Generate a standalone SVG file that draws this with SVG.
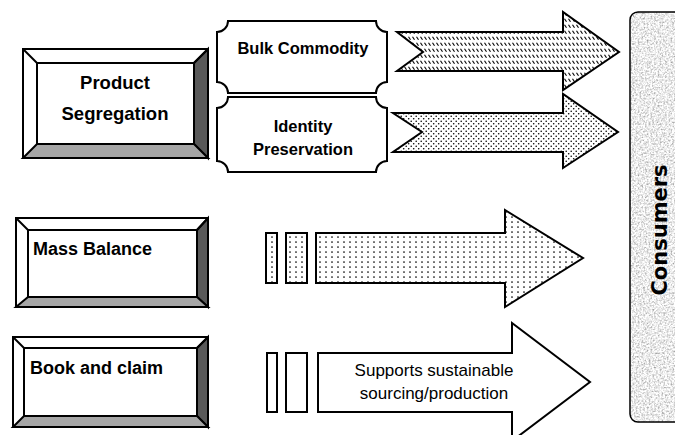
<svg xmlns="http://www.w3.org/2000/svg" width="675" height="435" viewBox="0 0 675 435">
<style>
.ln{stroke:#000;stroke-width:2;stroke-linejoin:miter}
.w{fill:#fff}
.dk{fill:#595959}
.md{fill:#a6a6a6}
.bt{font-family:"Liberation Sans",Arial,sans-serif;font-weight:bold;fill:#000}
.rt{font-family:"Liberation Sans",Arial,sans-serif;fill:#000}
</style>
<defs>
<pattern id="hatch" width="4" height="6" patternUnits="userSpaceOnUse">
<rect width="4" height="6" fill="#fff"/>
<line x1="0.5" y1="0.8" x2="2.5" y2="3.8" stroke="#000" stroke-width="1.1"/>
</pattern>
<pattern id="dots" width="5" height="5" patternUnits="userSpaceOnUse">
<rect width="5" height="5" fill="#fff"/>
<circle cx="1.2" cy="1.2" r="0.8" fill="#000"/>
<circle cx="3.7" cy="3.7" r="0.8" fill="#000"/>
</pattern>
<pattern id="dots2" width="6" height="5" patternUnits="userSpaceOnUse">
<rect width="6" height="5" fill="#fff"/>
<circle cx="2" cy="2" r="0.85" fill="#000"/>
</pattern>
<filter id="grain" x="0" y="0" width="100%" height="100%">
<feTurbulence type="fractalNoise" baseFrequency="0.55" numOctaves="3" seed="4" result="n"/>
<feColorMatrix in="n" type="matrix" values="1.3 0 0 0 0.18  1.3 0 0 0 0.18  1.3 0 0 0 0.18  0 0 0 0 1" result="g"/>
<feComposite in="g" in2="SourceGraphic" operator="in"/>
</filter>
</defs>
<rect width="675" height="435" fill="#fff"/>

<g id="product-segregation">
<rect class="ln w" x="23" y="49" width="185" height="109"/>
<polygon class="ln dk" points="208,49 208,158 194,144 194,63"/>
<polygon class="ln md" points="23,158 208,158 194,144 37,144"/>
<line class="ln" x1="23" y1="49" x2="37" y2="63"/>
<line class="ln" x1="208" y1="49" x2="194" y2="63"/>
<rect class="ln w" x="37" y="63" width="157" height="81"/>
<text class="bt" font-size="18.5" x="115" y="89" text-anchor="middle">Product</text>
<text class="bt" font-size="18.5" x="115" y="120" text-anchor="middle">Segregation</text>
</g>

<g id="bulk-commodity">
<path class="ln w" d="M228,21 H376 A11 11 0 0 0 387,32 V82 A11 11 0 0 0 376,93 H228 A11 11 0 0 0 217,82 V32 A11 11 0 0 0 228,21 Z"/>
<text class="bt" font-size="16.5" x="303" y="54" text-anchor="middle">Bulk Commodity</text>
</g>

<g id="identity-preservation">
<path class="ln w" d="M228,97 H376 A11 11 0 0 0 387,108 V161 A11 11 0 0 0 376,172 H228 A11 11 0 0 0 217,161 V108 A11 11 0 0 0 228,97 Z"/>
<text class="bt" font-size="16.5" x="303" y="132" text-anchor="middle">Identity</text>
<text class="bt" font-size="16.5" x="303" y="155" text-anchor="middle">Preservation</text>
</g>

<g id="mass-balance">
<rect class="ln w" x="16" y="218" width="192" height="89"/>
<polygon class="ln dk" points="208,218 208,307 197,297 197,230"/>
<polygon class="ln md" points="16,307 208,307 197,297 28,297"/>
<line class="ln" x1="16" y1="218" x2="28" y2="230"/>
<line class="ln" x1="208" y1="218" x2="197" y2="230"/>
<rect class="ln w" x="28" y="230" width="169" height="67"/>
<text class="bt" font-size="18" x="33" y="255">Mass Balance</text>
</g>

<g id="book-and-claim">
<rect class="ln w" x="13" y="337" width="195" height="90"/>
<polygon class="ln dk" points="208,337 208,427 197,416 197,348"/>
<polygon class="ln md" points="13,427 208,427 197,416 24,416"/>
<line class="ln" x1="13" y1="337" x2="24" y2="348"/>
<line class="ln" x1="208" y1="337" x2="197" y2="348"/>
<rect class="ln w" x="24" y="348" width="173" height="68"/>
<text class="bt" font-size="18" x="30" y="374">Book and claim</text>
</g>

<g id="consumers">
<rect x="630" y="12" width="60" height="410" rx="8" fill="#d0d0d0" filter="url(#grain)"/>
<rect x="630" y="12" width="60" height="410" rx="8" fill="none" stroke="#000" stroke-width="1.5"/>
<text font-family="'DejaVu Sans',Verdana,sans-serif" font-weight="bold" font-size="21" fill="#000" text-anchor="middle" transform="translate(667,230) rotate(-90)">Consumers</text>
</g>

<g id="connectors">
<path class="ln" fill="url(#hatch)" d="M397,32 H563 V12 L619,52 L563,90 V71 H397 L423,52 Z"/>
<path class="ln" fill="url(#dots)" d="M393,113 H563 V94 L618,132 L563,168 V152 H393 L422,132 Z"/>
<rect class="ln" fill="url(#dots2)" x="266" y="233" width="11" height="50"/>
<rect class="ln" fill="url(#dots2)" x="286" y="233" width="21" height="50"/>
<path class="ln" fill="url(#dots2)" d="M316,233 H505 V210 L583,258 L505,307 V283 H316 Z"/>
<rect class="ln w" x="267" y="353" width="10" height="59"/>
<rect class="ln w" x="286" y="353" width="21" height="59"/>
<path class="ln w" d="M318,353 H512 V323 L590,382 L512,441 V412 H318 Z"/>
<text class="rt" font-size="17" x="434" y="376" text-anchor="middle">Supports sustainable</text>
<text class="rt" font-size="17" x="434" y="399" text-anchor="middle">sourcing/production</text>
</g>
</svg>
